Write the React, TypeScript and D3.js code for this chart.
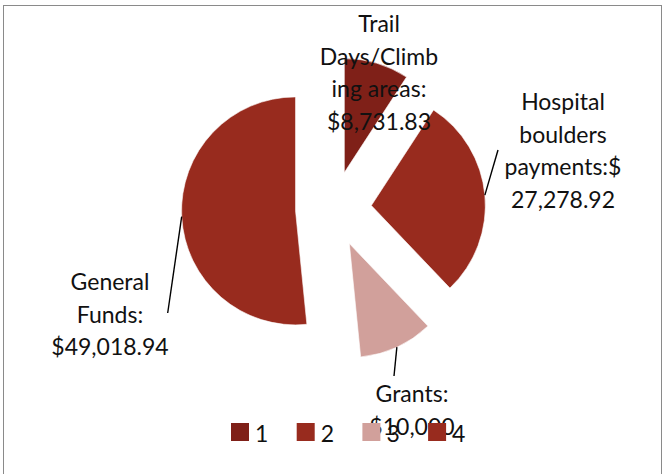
import React from 'react';
import * as d3 from 'd3';

// ---- data ----
const categories = ['Trail Days/Climbing areas', 'Hospital boulders payments', 'Grants', 'General Funds'];
const values = [8731.83, 27278.92, 10000, 49018.94];
const labelLines = [
  ['Trail', 'Days/Climb', 'ing areas:', '$8,731.83'],
  ['Hospital', 'boulders', 'payments:$', '27,278.92'],
  ['Grants:', '$10,000'],
  ['General', 'Funds:', '$49,018.94'],
];
const legendLabels = ['1', '2', '3', '4'];
const colors = ['#7f2018', '#982b1e', '#d1a09b', '#982b1e'];

// ---- layout ----
const W = 663;
const H = 474;
const CX = 333.5;
const CY = 209;
const R = 114;
const EXPLODE = 38;
const FONT = 'Lato, "Open Sans", sans-serif';
const FS = 23;
const LINE_H = 32.5;
// label block anchors (center x, first baseline y) and leader end points (null = none)
const labelAnchors = [
  { x: 379, y: 32, leader: null as null | [number, number] },
  { x: 563, y: 110, leader: [498, 150] as [number, number] },
  { x: 412, y: 402, leader: [394, 376] as [number, number] },
  { x: 110, y: 290, leader: [167.7, 313] as [number, number] },
];
const legendX0 = 231;
const legendStep = 65.7;
const legendY = 423;
const legendBox = 18;

export default function App() {
  const pie = d3.pie<number>().sort(null).startAngle(0).endAngle(2 * Math.PI);
  const arcs = pie(values);
  const arcGen = d3.arc<d3.PieArcDatum<number>>().innerRadius(0).outerRadius(R);

  return (
    <div style={{ position: 'absolute', left: 0, top: 0 }}>
      <svg width={W} height={H} style={{ display: 'block' }}>
        <rect x={0} y={0} width={W} height={H} fill="#fff" />
        <rect x={3.5} y={5.5} width={658} height={475} fill="none" stroke="#8a8a8a" strokeWidth={1} />
        <g transform={`translate(${CX},${CY})`}>
          {arcs.map((a, i) => {
            const mid = (a.startAngle + a.endAngle) / 2;
            const dx = EXPLODE * Math.sin(mid);
            const dy = -EXPLODE * Math.cos(mid);
            return (
              <path
                key={categories[i]}
                d={arcGen(a) || ''}
                transform={`translate(${dx},${dy})`}
                fill={colors[i]}
                stroke="#ffffff"
                strokeWidth={0.6}
              />
            );
          })}
        </g>
        {arcs.map((a, i) => {
          const la = labelAnchors[i];
          if (!la.leader) return null;
          const mid = (a.startAngle + a.endAngle) / 2;
          const rr = EXPLODE + R;
          const sx = CX + rr * Math.sin(mid);
          const sy = CY - rr * Math.cos(mid);
          return (
            <line key={'ld' + i} x1={sx} y1={sy} x2={la.leader[0]} y2={la.leader[1]} stroke="#000" strokeWidth={1.4} />
          );
        })}
        {labelLines.map((lines, i) => (
          <text key={'lb' + i} fontFamily={FONT} fontSize={FS} fill="#111" textAnchor="middle">
            {lines.map((t, j) => (
              <tspan key={j} x={labelAnchors[i].x} y={labelAnchors[i].y + j * LINE_H}>
                {t}
              </tspan>
            ))}
          </text>
        ))}
        {legendLabels.map((l, i) => (
          <g key={'lg' + i} transform={`translate(${legendX0 + i * legendStep},${legendY})`}>
            <rect x={0} y={0} width={legendBox} height={legendBox} fill={colors[i]} />
            <text x={legendBox + 6} y={legendBox + 1} fontFamily={FONT} fontSize={FS} fill="#111">
              {l}
            </text>
          </g>
        ))}
      </svg>
    </div>
  );
}
